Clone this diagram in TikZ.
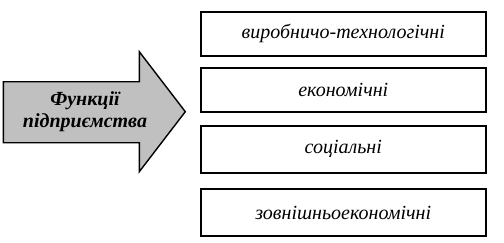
\documentclass[tikz,border=0pt]{standalone}
\usepackage{fontspec}
\setmainfont{Liberation Serif}
\begin{document}
\begin{tikzpicture}[x=1pt,y=1pt,
  fbox/.style={draw=black,line width=1.8pt,minimum width=285pt,inner sep=0pt,font=\itshape\fontsize{20}{24}\selectfont},
  arrowtext/.style={font=\bfseries\itshape\fontsize{20}{22}\selectfont,align=center}]
\useasboundingbox (0,0) rectangle (504,242);
\node[fbox,minimum height=44pt] (b1) at (343.3,208.2) {виробничо-технологічні};
\node[fbox,minimum height=44pt] (b2) at (343.3,152.2) {економічні};
\node[fbox,minimum height=47pt] (b3) at (343.3,92.8) {соціальні};
\node[fbox,minimum height=47pt] (b4) at (343.3,29.5) {зовнішньоекономічні};
\draw[line width=1.4pt,line join=miter,fill={rgb,255:red,192;green,192;blue,192}] (3.3,160.3) -- (139.3,160.3) -- (139.3,190.3) -- (185.3,130.3) -- (139.3,70.3) -- (139.3,99.3) -- (3.3,99.3) -- cycle;
\node[arrowtext] (a) at (85,130.3) {Функції\\підприємства};
\end{tikzpicture}
\end{document}
